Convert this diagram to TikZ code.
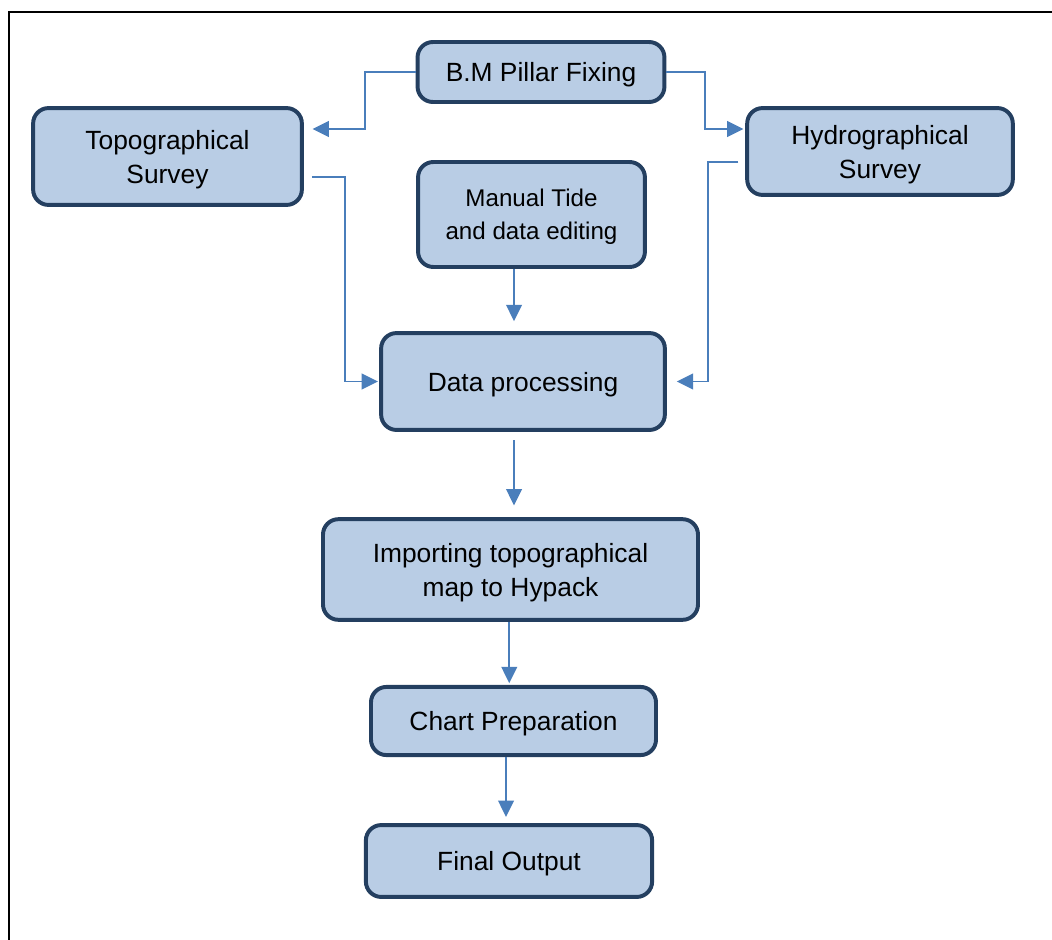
\documentclass[tikz,border=0pt]{standalone}
\usepackage{fontspec}
\setmainfont{Liberation Sans}
\usepackage{xcolor}
\definecolor{boxfill}{RGB}{185, 205, 229}
\definecolor{boxedge}{RGB}{36, 63, 96}
\definecolor{flowblue}{RGB}{74, 126, 187}
\usetikzlibrary{arrows.meta, positioning, calc}

\begin{document}
\begin{tikzpicture}[
        stepbox/.style={rectangle, draw=boxedge, fill=boxfill, line width=1.8pt, rounded corners=7pt, align=center, inner sep=0pt, text depth=0pt, font=\fontsize{12}{15.5}\selectfont},
        line/.style={draw=flowblue, line width=0.9pt, -{Triangle[length=0.26cm, width=0.25cm]}}]

        % frame (top and left only)
        \useasboundingbox (0,0) rectangle (16.832,-15.04);
        \draw[line width=0.9pt] (0.144,-15.04) -- (0.144,-0.192) -- (16.832,-0.192);

        \node [stepbox, minimum width=3.95cm, minimum height=0.96cm] (bm) at (8.656,-1.152) {B.M Pillar Fixing};
        \node [stepbox, minimum width=4.3cm, minimum height=1.55cm] (topo) at (2.68,-2.504) {Topographical\\Survey};
        \node [stepbox, minimum width=4.25cm, minimum height=1.39cm, text depth=-0.22cm] (hydro) at (14.08,-2.424) {Hydrographical\\Survey};
        \node [stepbox, minimum width=3.63cm, minimum height=1.68cm, font=\fontsize{11}{15}\selectfont] (tide) at (8.504,-3.432) {Manual Tide\\and data editing};
        \node [stepbox, minimum width=4.54cm, minimum height=1.55cm] (proc) at (8.368,-6.104) {Data processing};
        \node [stepbox, minimum width=6cm, minimum height=1.61cm] (imp) at (8.168,-9.112) {Importing topographical\\map to Hypack};
        \node [stepbox, minimum width=4.56cm, minimum height=1.09cm] (chart) at (8.216,-11.536) {Chart Preparation};
        \node [stepbox, minimum width=4.58cm, minimum height=1.15cm] (final) at (8.144,-13.776) {Final Output};

        \path [line] (bm.west) -- ++(-0.816,0) |- ([xshift=0.14cm, yshift=0.44cm]topo.east);
        \path [line] (bm.east) -- ++(0.624,0) |- ([xshift=-0.03cm, yshift=0.36cm]hydro.west);
        \path [line] ([xshift=0.13cm, yshift=-0.33cm]topo.east) -- ++(0.53,0) |- ([xshift=-0.02cm]proc.west);
        \path [line] ([xshift=-0.11cm, yshift=-0.17cm]hydro.west) -- ++(-0.48,0) |- ([xshift=0.16cm]proc.east);
        \path [line] ([xshift=-0.28cm]tide.south) -- ([xshift=-0.28cm, yshift=0.16cm]tide.south |- proc.north);
        \path [line] ([xshift=-0.144cm, yshift=-0.13cm]proc.south) -- ([xshift=-0.144cm, yshift=0.19cm]proc.south |- imp.north);
        \path [line] ([xshift=-0.02cm]imp.south) -- ([xshift=-0.02cm, yshift=0.03cm]imp.south |- chart.north);
        \path [line] ([xshift=-0.12cm]chart.south) -- ([xshift=-0.12cm, yshift=0.1cm]chart.south |- final.north);
    \end{tikzpicture}
\end{document}
